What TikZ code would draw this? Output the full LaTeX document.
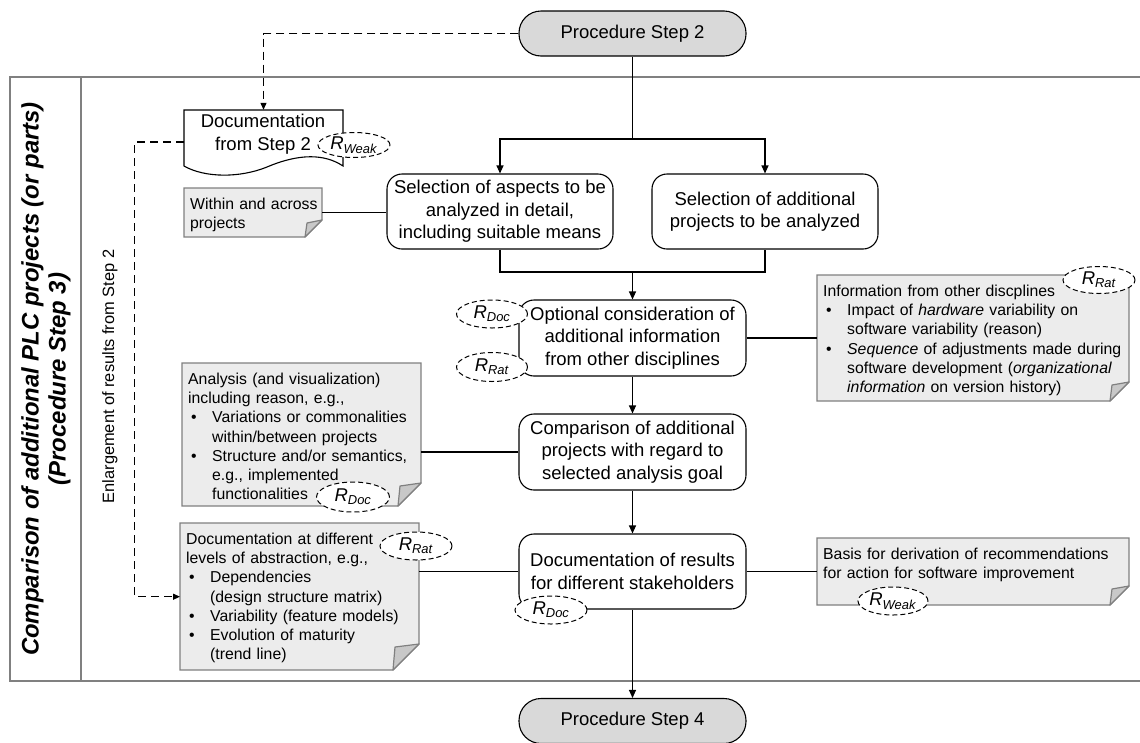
\documentclass[tikz,border=0pt]{standalone}
\usepackage{fontspec}
\setmainfont{Liberation Sans}
\usetikzlibrary{arrows.meta,shapes.geometric}
\definecolor{stepgray}{RGB}{217,217,217}
\definecolor{notefill}{RGB}{236,236,236}
\definecolor{noteline}{RGB}{128,128,128}
\definecolor{foldfill}{RGB}{200,200,200}
\definecolor{framegray}{RGB}{128,128,128}
\newcommand{\bl}{\makebox[24pt][l]{\hspace{3pt}\textbullet}}
\newcommand{\ind}{\hspace*{24pt}}
\newcommand{\RR}[1]{\textit{R}\textsubscript{\textit{#1}}}
% name, x1, y1, x2, y2, fold
\newcommand{\notebox}[6]{%
  \path[draw=noteline, line width=1.2pt, fill=notefill] (#2,#3) -- (#4,#3) -- (#4,#5-#6) -- (#4-#6,#5) -- (#2,#5) -- cycle;
  \path[draw=noteline, line width=1.2pt, fill=foldfill, line join=round] (#4,#5-#6) -- (#4-#6+2,#5-#6+3) -- (#4-#6,#5) -- cycle;
  \node[inner sep=0pt, minimum width={#4-#2}, minimum height={#5-#3}, anchor=north west] (#1) at (#2,#3) {};
}
\tikzset{
  mainfont/.style={font=\fontsize{18.5}{22.5}\selectfont},
  procbox/.style={draw, line width=1.1pt, rounded corners=15pt, fill=white, minimum width=227pt, minimum height=76pt, inner sep=0pt, align=center, mainfont},
  stepbox/.style={draw, line width=1.1pt, rounded corners=22pt, fill=stepgray, minimum width=227pt, minimum height=45pt, inner sep=0pt, mainfont},
  notetext/.style={anchor=north west, xshift=6pt, yshift=-9.5pt, inner sep=0pt, align=left, font=\fontsize{15.8}{19.3}\selectfont},
  rell/.style={ellipse, draw, dash pattern=on 5pt off 3pt, line width=1pt, fill=white, inner sep=0pt, minimum width=71pt, minimum height=28pt, font=\fontsize{18.5}{20}\selectfont},
  conn/.style={line width=1.1pt},
  arr/.style={conn, -{Triangle[length=8pt,width=7pt]}},
  dline/.style={line width=1.1pt, dash pattern=on 8pt off 5pt},
  darr/.style={dline, -{Triangle[length=7pt,width=6pt]}},
  frameline/.style={draw=framegray, line width=1.8pt}
}
\begin{document}
\begin{tikzpicture}[x=1pt,y=-1pt]
\useasboundingbox (0,0) rectangle (1140,742);

% swimlane frame
\draw[frameline] (1145,77) -- (10,77) -- (10,681) -- (1145,681);
\draw[frameline] (81,77) -- (81,681);
\node[rotate=90, align=center, font=\fontsize{23.9}{27}\selectfont\bfseries\itshape] (title) at (46,379)
  {Comparison of additional PLC projects (or parts)\\(Procedure Step 3)};
\node[rotate=90, font=\fontsize{16.4}{19}\selectfont] (enl) at (110,376.5) {Enlargement of results from Step 2};

% notes
\notebox{within}{184}{188}{322}{237}{17}
\notebox{anote}{182}{363}{421}{506}{23}
\notebox{rnote}{817}{275}{1129}{401}{19}
\notebox{dnote}{180}{523}{419}{670}{26}
\notebox{bnote}{817}{538}{1129}{605}{19}

\node[notetext, text width=135pt] (withint) at (within.north west) {Within and across\\projects};
\node[notetext, text width=236pt] (anotet) at (anote.north west)
  {Analysis (and visualization)\\including reason, e.g.,\\
   \bl Variations or commonalities\\\ind within/between projects\\
   \bl Structure and/or semantics,\\\ind e.g., implemented\\\ind functionalities};
\node[notetext, text width=306pt] (rnotet) at (rnote.north west)
  {Information from other discplines\\
   \bl Impact of \textit{hardware} variability on\\\ind software variability (reason)\\
   \bl \textit{Sequence} of adjustments made during\\\ind software development (\textit{organizational}\\\ind \textit{information} on version history)};
\node[notetext, text width=236pt] (dnotet) at (dnote.north west)
  {Documentation at different\\levels of abstraction, e.g.,\\
   \bl Dependencies\\\ind (design structure matrix)\\
   \bl Variability (feature models)\\
   \bl Evolution of maturity\\\ind (trend line)};
\node[notetext, text width=306pt] (bnotet) at (bnote.north west)
  {Basis for derivation of recommendations\\for action for software improvement};

% document shape
\draw[line width=1.1pt, fill=white] (184,110) -- (343,110) -- (343,166)
  .. controls (325,154) and (300,153) .. (267,167)
  .. controls (240,178) and (205,178) .. (184,166) -- cycle;
\node[inner sep=0pt, minimum width=159pt, minimum height=56pt] (doc) at (263.5,138) {};
\node[align=center, inner sep=0pt, mainfont] (doct) at (263,134) {Documentation\\from Step 2};

% process boxes
\node[stepbox] (step2) at (632.5,33.5) {Procedure Step 2};
\node[procbox, minimum width=226pt, minimum height=75pt] (boxA) at (500,211.5) {Selection of aspects to be\\analyzed in detail,\\including suitable means};
\node[procbox, minimum width=226pt, minimum height=75pt] (boxB) at (765,211.5) {Selection of additional\\projects to be analyzed};
\node[procbox] (boxC) at (632.5,338) {Optional consideration of\\additional information\\from other disciplines};
\node[procbox] (boxD) at (632.5,452) {Comparison of additional\\projects with regard to\\selected analysis goal};
\node[procbox, minimum height=75pt] (boxE) at (632.5,571.5) {Documentation of results\\for different stakeholders};
\node[stepbox] (step4) at (632.5,721) {Procedure Step 4};

% connectors
\coordinate (split) at (632.5,139);
\coordinate (merge) at (632.5,272);
\draw[conn] (step2.south) -- (split);
\draw[arr] (split) -| (boxA.north);
\draw[arr] (split) -| (boxB.north);
\draw[conn] (boxA.south) -- (boxA.south |- merge) -- (boxB.south |- merge) -- (boxB.south);
\draw[arr] (merge) -- (boxC.north);
\draw[arr] (boxC.south) -- (boxD.north);
\draw[arr] (boxD.south) -- (boxE.north);
\draw[arr] (boxE.south) -- (step4.north);

\draw[conn] (within.east) -- (within.east -| boxA.west);
\draw[conn] (boxC.east) -- (boxC.east -| rnote.west);
\draw[conn] (boxD.west) -- (boxD.west -| anote.east);
\draw[conn] (boxE.west) -- (boxE.west -| dnote.east);
\draw[conn] (boxE.east) -- (boxE.east -| bnote.west);

\draw[darr] (step2.west) -| (doc.north);
\draw[darr] ([yshift=-4pt]doc.west) -- ++(-49,0) |- (dnote.west);

% R labels
\node[rell, minimum width=72pt, minimum height=25pt] (rw1) at (354,145) {\RR{Weak}};
\node[rell] (rdc) at (492,314) {\RR{Doc}};
\node[rell, minimum height=29pt] (rrc) at (492,367) {\RR{Rat}};
\node[rell, minimum width=72pt, minimum height=27pt] (rrn) at (1099,280) {\RR{Rat}};
\node[rell, minimum width=73pt, minimum height=30pt] (rda) at (353,497) {\RR{Doc}};
\node[rell, minimum width=72pt] (rrd) at (416,546) {\RR{Rat}};
\node[rell, minimum width=72pt] (rde) at (551,610) {\RR{Doc}};
\node[rell, minimum width=70pt] (rwb) at (893,601) {\RR{Weak}};
\end{tikzpicture}
\end{document}
